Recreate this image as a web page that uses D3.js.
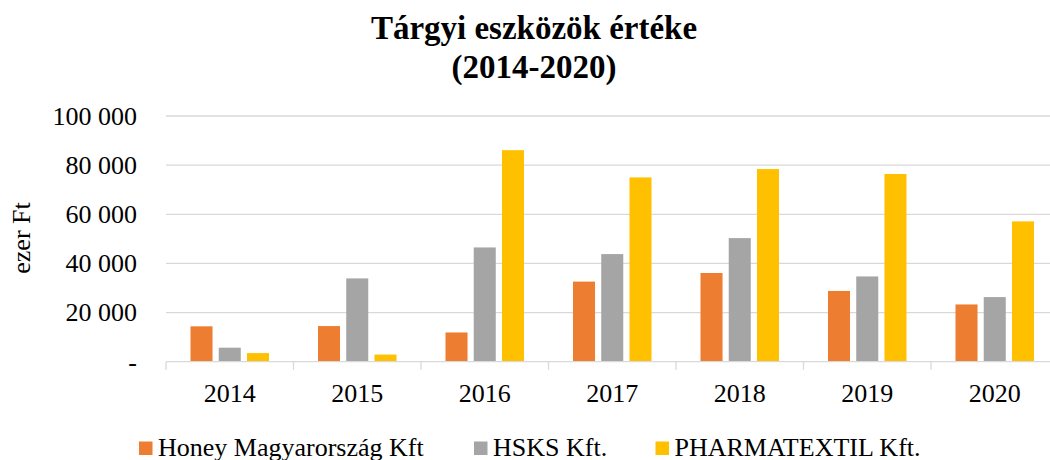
<!DOCTYPE html>
<html lang='hu'>
	<head>
		<meta charset='utf-8'>
		<title>Tárgyi eszközök értéke</title>
		<script type='text/javascript' src='https://cdn.jsdelivr.net/npm/d3@7/dist/d3.min.js'></script>
		<style>
			body { margin: 0; background: #fff; }
			svg text { font-family: 'Liberation Serif', 'Times New Roman', serif; fill: #000; }
			g.grid line { stroke: #d9d9d9; stroke-width: 1.3px; }
			g.xaxis line { stroke: #d9d9d9; stroke-width: 1.3px; }
		</style>
	</head>
	<body>
		<script type='text/javascript'>
			var years = ['2014','2015','2016','2017','2018','2019','2020'];
			var seriesNames = ['Honey Magyarország Kft', 'HSKS Kft.', 'PHARMATEXTIL Kft.'];
			var honey = [14400, 14500, 11900, 32600, 36100, 28800, 23300];
			var hsks = [5700, 33900, 46500, 43800, 50300, 34700, 26300];
			var pharma = [3500, 2900, 86100, 75000, 78400, 76400, 57100];
			var colors = ['#ed7d31', '#a5a5a5', '#ffc000'];
			var yTicks = [0, 20000, 40000, 60000, 80000, 100000];
			var legendX = [139, 474, 655.5];

			var width = 1050, height = 460;
			var plotLeft = 166, plotRight = 1058.5, plotTop = 116, plotBottom = 361.7;

			var rows = years.map(function(y, i) {
				return { year: y, values: [honey[i], hsks[i], pharma[i]] };
			});

			var svg = d3.select('body').append('svg')
				.attr('width', width)
				.attr('height', height);

			var x0 = d3.scaleBand().domain(years).range([plotLeft, plotRight]);
			var bw = x0.bandwidth();
			var x1 = d3.scaleBand().domain([0, 1, 2]).range([24.5, bw - 24.5]).paddingInner(0.22);
			var y = d3.scaleLinear().domain([0, 100000]).range([plotBottom, plotTop]);

			var fmt = function(d) {
				return d === 0 ? '-' : d3.format(',')(d).replace(/,/g, ' ');
			};

			// gridlines
			svg.append('g').attr('class', 'grid')
				.selectAll('line')
				.data(yTicks.filter(function(d) { return d > 0; }))
				.enter().append('line')
					.attr('x1', plotLeft).attr('x2', plotRight)
					.attr('y1', function(d) { return y(d); })
					.attr('y2', function(d) { return y(d); });

			// y labels
			svg.append('g')
				.selectAll('text')
				.data(yTicks)
				.enter().append('text')
					.attr('x', 137)
					.attr('y', function(d) { return y(d); })
					.attr('dy', '0.34em')
					.attr('text-anchor', 'end')
					.style('font-size', '26px')
					.text(fmt);

			// bars
			var groups = svg.append('g').selectAll('g')
				.data(rows)
				.enter().append('g')
					.attr('transform', function(d) { return 'translate(' + x0(d.year) + ',0)'; });

			groups.selectAll('rect')
				.data(function(d) { return d.values; })
				.enter().append('rect')
					.attr('x', function(d, i) { return x1(i); })
					.attr('y', function(d) { return y(d); })
					.attr('width', x1.bandwidth())
					.attr('height', function(d) { return plotBottom - y(d); })
					.attr('fill', function(d, i) { return colors[i]; });

			// x axis
			var xAxis = svg.append('g').attr('class', 'xaxis')
				.attr('transform', 'translate(0,' + plotBottom + ')');
			xAxis.append('line').attr('x1', plotLeft).attr('x2', plotRight);
			xAxis.selectAll('line.tick')
				.data(years.concat(['end']))
				.enter().append('line')
					.attr('class', 'tick')
					.attr('x1', function(d) { return d === 'end' ? plotRight : x0(d); })
					.attr('x2', function(d) { return d === 'end' ? plotRight : x0(d); })
					.attr('y1', 0).attr('y2', 8);
			xAxis.selectAll('text')
				.data(years)
				.enter().append('text')
					.attr('x', function(d) { return x0(d) + bw / 2; })
					.attr('y', 40)
					.attr('text-anchor', 'middle')
					.style('font-size', '26px')
					.text(function(d) { return d; });

			// y title
			svg.append('text')
				.attr('transform', 'translate(30,238) rotate(-90)')
				.attr('text-anchor', 'middle')
				.style('font-size', '26px')
				.text('ezer Ft');

			// title
			var title = svg.append('text')
				.attr('text-anchor', 'middle')
				.style('font-size', '33px')
				.style('font-weight', 'bold');
			title.append('tspan').attr('x', 534).attr('y', 39).text('Tárgyi eszközök értéke');
			title.append('tspan').attr('x', 534).attr('y', 78).text('(2014-2020)');

			// legend
			var legend = svg.append('g').selectAll('g')
				.data(seriesNames)
				.enter().append('g')
					.attr('transform', function(d, i) { return 'translate(' + legendX[i] + ',0)'; });
			legend.append('rect')
				.attr('x', 0).attr('y', 441.5)
				.attr('width', 13.5).attr('height', 13.5)
				.attr('fill', function(d, i) { return colors[i]; });
			legend.append('text')
				.attr('x', 19).attr('y', 456)
				.style('font-size', '26px')
				.text(function(d) { return d; });
		</script>
	</body>
</html>
